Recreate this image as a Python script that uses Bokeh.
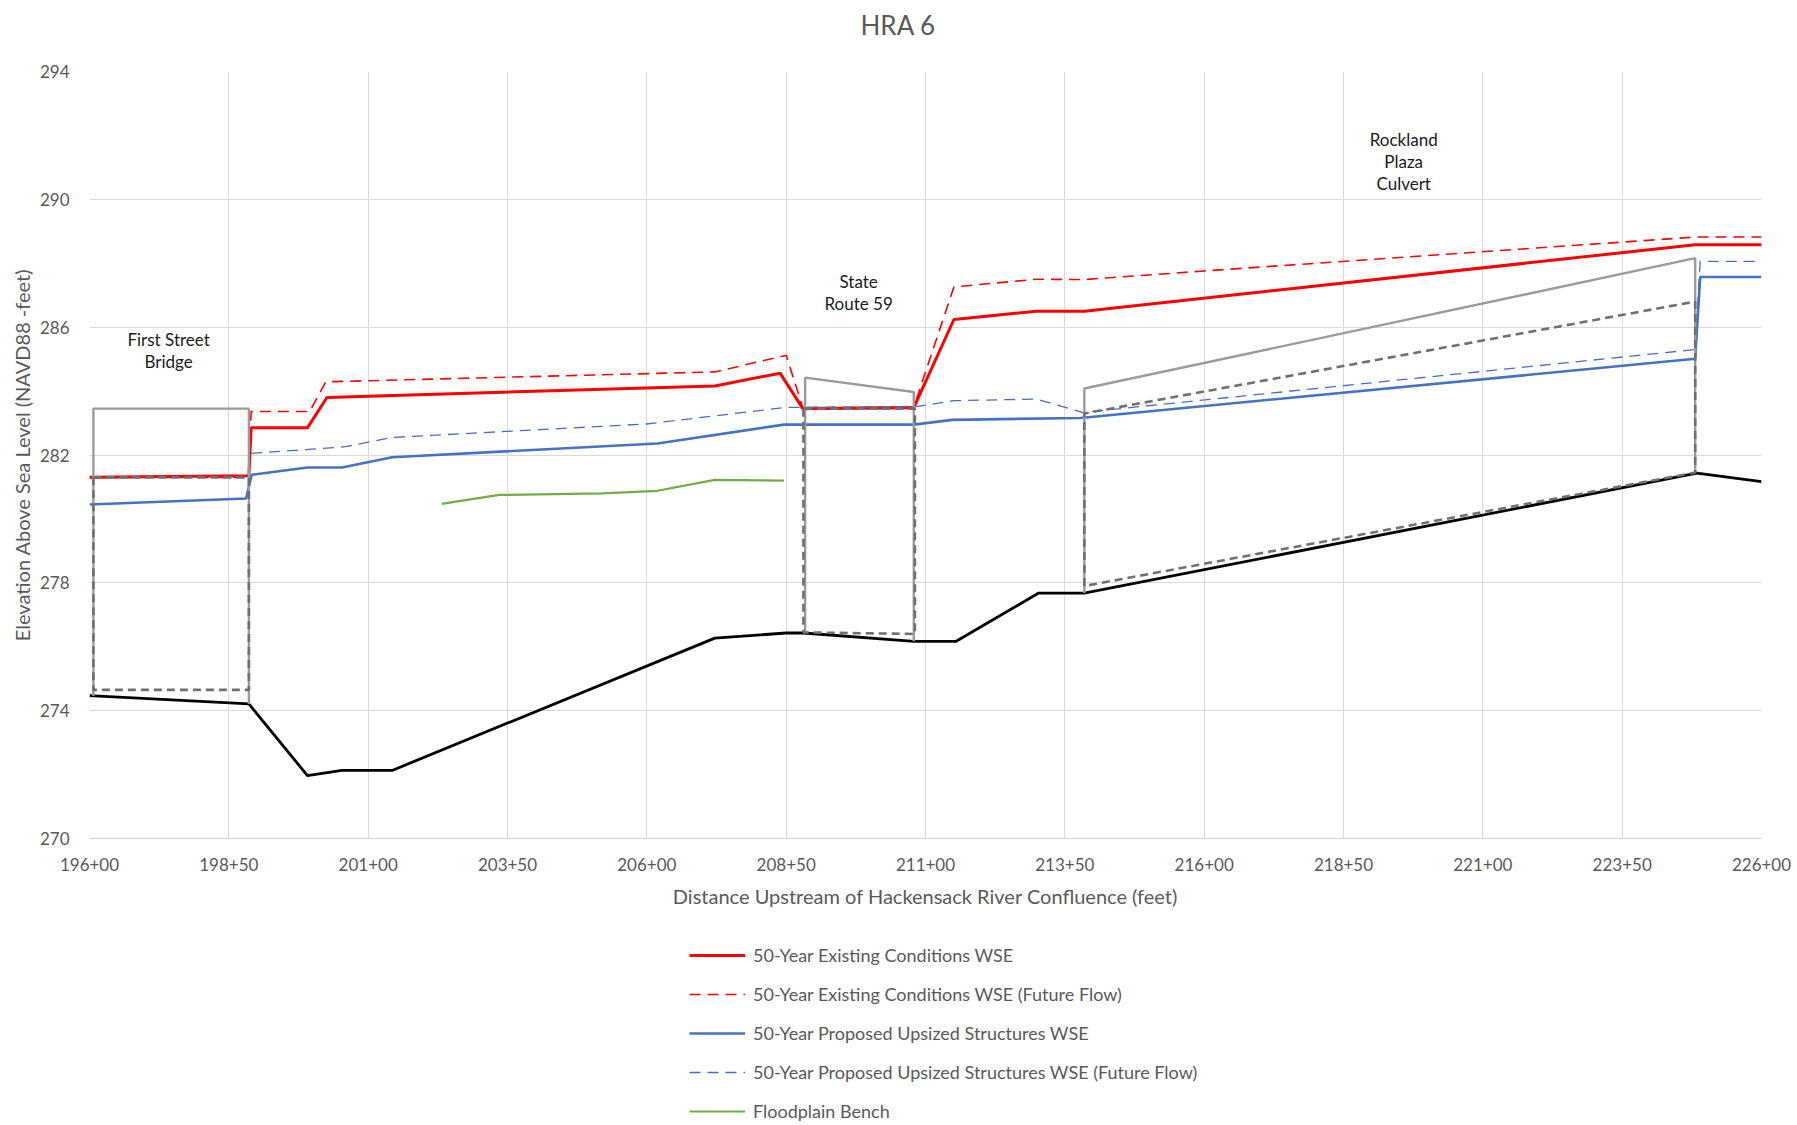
from bokeh.plotting import figure
from bokeh.layouts import column
from bokeh.models import Range1d, FixedTicker, Legend, LegendItem
from bokeh.core.properties import value
from bokeh.embed import file_html
from bokeh.resources import INLINE

title_text = "HRA 6"
x_axis_label = "Distance Upstream of Hackensack River Confluence (feet)"
y_axis_label = "Elevation Above Sea Level (NAVD88 -feet)"

x_ticks = [19600, 19850, 20100, 20350, 20600, 20850, 21100, 21350, 21600, 21850, 22100, 22350, 22600]
x_tick_labels = ["196+00", "198+50", "201+00", "203+50", "206+00", "208+50", "211+00",
                 "213+50", "216+00", "218+50", "221+00", "223+50", "226+00"]
y_ticks = [270, 274, 278, 282, 286, 290, 294]

# 50-Year Existing Conditions WSE
ex_x = [19600, 19886, 19890, 19991, 20026, 20722, 20839, 20880, 21079, 21151, 21299, 21385, 22481, 22600]
ex_y = [281.30, 281.35, 282.85, 282.85, 283.80, 284.16, 284.56, 283.45, 283.48, 286.24, 286.50, 286.50, 288.58, 288.58]

# 50-Year Existing Conditions WSE (Future Flow)
exf_x = [19600, 19886, 19890, 19995, 20024, 20722, 20850, 20880, 21079, 21151, 21299, 21385, 21593, 22481, 22600]
exf_y = [281.30, 281.30, 283.36, 283.36, 284.29, 284.60, 285.12, 283.48, 283.50, 287.26, 287.50, 287.49, 287.75, 288.82, 288.82]

# 50-Year Proposed Upsized Structures WSE
pr_x = [19600, 19881, 19891, 19991, 20053, 20143, 20619, 20846, 21079, 21148, 21378, 22481, 22490, 22600]
pr_y = [280.45, 280.64, 281.38, 281.61, 281.61, 281.93, 282.36, 282.95, 282.95, 283.10, 283.16, 285.01, 287.57, 287.57]

# 50-Year Proposed Upsized Structures WSE (Future Flow)
prf_x = [19890, 20060, 20143, 20599, 20850, 21086, 21151, 21299, 21382, 22481, 22490, 22600]
prf_y = [282.05, 282.26, 282.55, 282.97, 283.49, 283.52, 283.70, 283.75, 283.33, 285.30, 288.06, 288.06]

# Floodplain Bench
bench_x = [20232, 20335, 20520, 20619, 20722, 20846]
bench_y = [280.47, 280.75, 280.80, 280.88, 281.22, 281.20]

# Channel invert (thalweg)
inv_x = [19600, 19886, 19991, 20053, 20143, 20722, 20850, 20881, 21079, 21155, 21303, 21385, 22484, 22600]
inv_y = [274.47, 274.21, 271.97, 272.13, 272.13, 276.27, 276.43, 276.43, 276.17, 276.17, 277.68, 277.68, 281.43, 281.17]

# Existing structures (solid grey)
first_st_x = [19607, 19607, 19886, 19886]
first_st_y = [274.46, 283.45, 283.45, 274.21]
sr59_x = [20884, 20884, 21079, 21079]
sr59_y = [276.43, 284.42, 283.97, 276.17]
rockland_x = [21385, 21385, 22481, 22481]
rockland_y = [277.68, 284.08, 288.16, 281.43]

# Proposed structures (dashed grey)
first_st_p_x = [19607, 19607, 19886, 19886, 19607]
first_st_p_y = [281.30, 274.65, 274.65, 281.30, 281.30]
sr59_p_x = [20881, 20881, 21081, 21081, 20881]
sr59_p_y = [283.45, 276.45, 276.40, 283.45, 283.45]
rockland_p_x = [21385, 21385, 22481, 22481, 21385]
rockland_p_y = [277.90, 283.30, 286.80, 281.45, 277.90]

label_text = ["First Street\nBridge", "State\nRoute 59", "Rockland\nPlaza\nCulvert"]
label_x = [19742, 20980, 21958]
label_y = [285.27, 287.08, 291.18]

legend_labels = ["50-Year Existing Conditions WSE",
                 "50-Year Existing Conditions WSE (Future Flow)",
                 "50-Year Proposed Upsized Structures WSE",
                 "50-Year Proposed Upsized Structures WSE (Future Flow)",
                 "Floodplain Bench"]

FONT = "Lato"
GREY_TXT = "#595959"

styles = {
    "ex": dict(line_color="#ff0000", line_width=3),
    "exf": dict(line_color="#ff0000", line_width=1.6, line_dash="11 7"),
    "pr": dict(line_color="#4472c4", line_width=2.6),
    "prf": dict(line_color="#4a6cc4", line_width=1.3, line_dash="11 7"),
    "bench": dict(line_color="#70ad47", line_width=2.2),
}

# ---- title strip
ttl = figure(width=1795, height=50, x_range=Range1d(0, 1), y_range=Range1d(0, 1),
             output_backend="svg", toolbar_location=None,
             x_axis_type=None, y_axis_type=None,
             min_border_left=0, min_border_right=0, min_border_top=0, min_border_bottom=0)
ttl.outline_line_color = None
ttl.background_fill_color = "white"
ttl.border_fill_color = "white"
ttl.title.text = title_text
ttl.title.align = "left"
ttl.title.offset = 771
ttl.title.text_font = FONT
ttl.title.text_font_size = "26px"
ttl.title.text_font_style = "normal"
ttl.title.text_color = GREY_TXT
ttl.title.standoff = 12

# ---- main chart
p = figure(width=1795, height=870, title=None,
           x_range=Range1d(19600, 22600), y_range=Range1d(270, 294),
           output_backend="svg", toolbar_location=None,
           min_border_left=89, min_border_right=34, min_border_top=21, min_border_bottom=82)

p.outline_line_color = None
p.background_fill_color = "white"
p.border_fill_color = "white"

p.xaxis.ticker = FixedTicker(ticks=x_ticks)
p.xaxis.major_label_overrides = {t: l for t, l in zip(x_ticks, x_tick_labels)}
p.yaxis.ticker = FixedTicker(ticks=y_ticks)
for ax in (p.xaxis, p.yaxis):
    ax.major_tick_line_color = None
    ax.minor_tick_line_color = None
    ax.major_label_text_font = FONT
    ax.major_label_text_font_size = "17px"
    ax.major_label_text_color = GREY_TXT
    ax.axis_label_text_font = FONT
    ax.axis_label_text_font_size = "20px"
    ax.axis_label_text_font_style = "normal"
    ax.axis_label_text_color = GREY_TXT
p.xaxis.axis_line_color = "#d0d0d0"
p.yaxis.axis_line_color = None
p.xaxis.axis_label = x_axis_label
p.yaxis.axis_label = y_axis_label
p.xaxis.major_label_standoff = 13
p.yaxis.major_label_standoff = 14
p.xaxis.axis_label_standoff = 10
p.yaxis.axis_label_standoff = 3

p.xgrid.grid_line_color = "#d9d9d9"
p.ygrid.grid_line_color = "#d9d9d9"

p.line(ex_x, ex_y, **styles["ex"])
p.line(exf_x, exf_y, **styles["exf"])
p.line(pr_x, pr_y, **styles["pr"])
p.line(prf_x, prf_y, **styles["prf"])
p.line(bench_x, bench_y, **styles["bench"])
p.line(inv_x, inv_y, line_color="#000000", line_width=2.8)
for xs, ys in ((first_st_x, first_st_y), (sr59_x, sr59_y), (rockland_x, rockland_y)):
    p.line(xs, ys, line_color="#9a9a9a", line_width=2.4)
for xs, ys in ((first_st_p_x, first_st_p_y), (sr59_p_x, sr59_p_y), (rockland_p_x, rockland_p_y)):
    p.line(xs, ys, line_color="#707070", line_width=2.6, line_dash="8 5")

p.text(x=label_x, y=label_y, text=label_text, text_align="center", text_baseline="middle",
       text_font=value(FONT), text_font_size="17px", text_color="#1a1a1a", text_line_height=1.05)

# ---- legend strip (its swatches come from off-range sample lines)
lg = figure(width=1795, height=203, x_range=Range1d(0, 1), y_range=Range1d(0, 1),
            output_backend="svg", toolbar_location=None,
            x_axis_type=None, y_axis_type=None,
            min_border_left=0, min_border_right=0, min_border_top=0, min_border_bottom=0)
lg.outline_line_color = None
lg.background_fill_color = "white"
lg.border_fill_color = "white"
swatch_x = [-10, -9]
swatch_y = [-10, -9]
items = []
for key, lab in zip(["ex", "exf", "pr", "prf", "bench"], legend_labels):
    r = lg.line(x=swatch_x, y=swatch_y, **styles[key])
    items.append(LegendItem(label=lab, renderers=[r]))
legend = Legend(items=items, location=(600, 1), orientation="vertical")
legend.glyph_width = 56
legend.glyph_height = 22
legend.label_height = 22
legend.spacing = 17
legend.label_standoff = 8
legend.padding = 0
legend.margin = 0
legend.border_line_color = None
legend.background_fill_alpha = 0
legend.label_text_font = FONT
legend.label_text_font_size = "18px"
legend.label_text_color = GREY_TXT
lg.add_layout(legend)

layout = column(ttl, p, lg, spacing=0)
open("out.html", "w").write(file_html(layout, INLINE))
